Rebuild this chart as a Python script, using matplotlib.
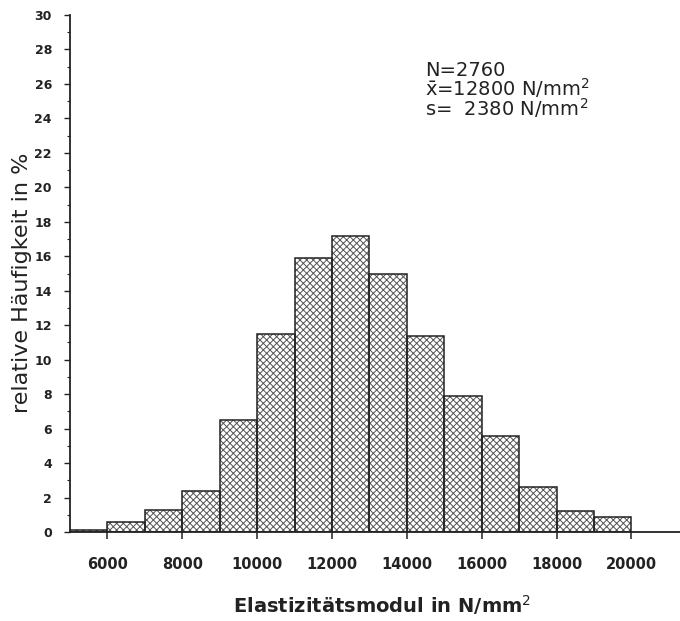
import matplotlib
matplotlib.use("Agg")
import matplotlib.pyplot as plt

# class edges (N/mm^2) and relative frequencies (%)
bin_left = [5000, 6000, 7000, 8000, 9000, 10000, 11000, 12000,
            13000, 14000, 15000, 16000, 17000, 18000, 19000]
rel_freq = [0.1, 0.6, 1.3, 2.4, 6.5, 11.5, 15.9, 17.2,
            15.0, 11.4, 7.9, 5.6, 2.6, 1.2, 0.9]
bin_width = 1000

x_ticks = [6000, 8000, 10000, 12000, 14000, 16000, 18000, 20000]
y_ticks = list(range(0, 31, 2))

stats_lines = ["N=2760",
               r"$\bar{\mathrm{x}}$=12800 N/mm$^2$",
               r"s=  2380 N/mm$^2$"]

plt.rcParams['font.family'] = ['DejaVu Sans']
plt.rcParams['mathtext.fontset'] = 'dejavusans'
plt.rcParams['hatch.linewidth'] = 0.7

fig = plt.figure(figsize=(6.8, 6.21), dpi=100)
ax = fig.add_axes([0.103, 0.1433, 0.897, 0.8325])

# hatch first (grey), then the darker bar outlines on top
ax.bar(bin_left, rel_freq, width=bin_width, align='edge',
       facecolor='white', edgecolor='#555555', linewidth=0, hatch='xxxxx')
ax.bar(bin_left, rel_freq, width=bin_width, align='edge',
       fill=False, edgecolor='#222222', linewidth=1.1)

ax.set_xlim(5000, 21300)
ax.set_ylim(0, 30)

for side in ['top', 'right']:
    ax.spines[side].set_visible(False)
for side in ['left', 'bottom']:
    ax.spines[side].set_linewidth(1.3)
    ax.spines[side].set_color('#222222')

ax.set_xticks(x_ticks)
ax.set_yticks(y_ticks)
ax.set_yticks(range(0, 31), minor=True)
ax.tick_params(axis='x', direction='out', length=5, width=1.1, pad=13,
               labelsize=10.5, colors='#222222')
ax.tick_params(axis='y', which='major', direction='out', length=4, width=1.0,
               pad=9, labelsize=9, colors='#222222')
ax.tick_params(axis='y', which='minor', direction='out', length=2, width=0.8,
               colors='#222222')
for lbl in ax.get_xticklabels() + ax.get_yticklabels():
    lbl.set_fontweight('bold')

fig.text(0.032, 0.544, 'relative Häufigkeit in %', rotation=90,
         ha='center', va='center', fontsize=16, color='#222222')
fig.text(0.562, 0.026, r'Elastizitätsmodul in N/mm$^2$',
         ha='center', va='center', fontsize=14, fontweight='bold',
         color='#222222')

# summary block as one text, lines set tight like in the original
ax.text(0.582, 0.805, "\n".join(stats_lines), transform=ax.transAxes,
        ha='left', va='baseline', fontsize=14, linespacing=0.8,
        color='#222222')

fig.savefig('out.png', dpi=100, facecolor='white')
